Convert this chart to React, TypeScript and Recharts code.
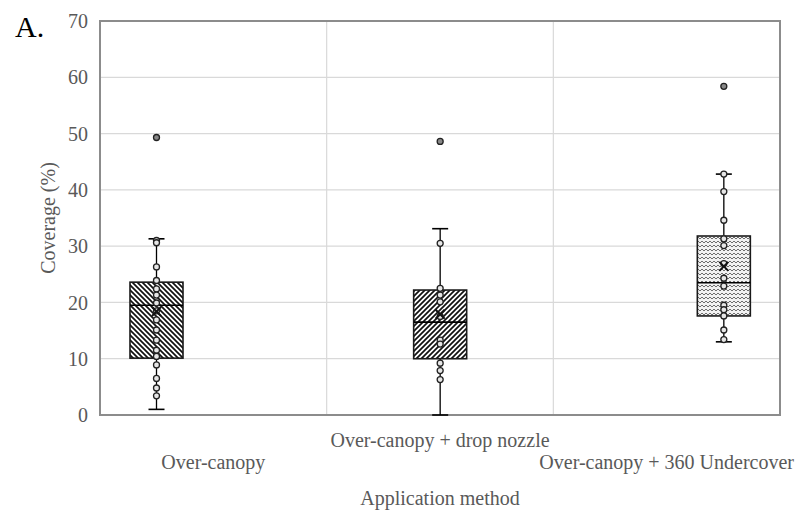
import React from "react";
import {
  ComposedChart,
  Bar,
  XAxis,
  YAxis,
  CartesianGrid,
  ReferenceArea,
  Label,
} from "recharts";

// ---------- data ----------
const categories = [
  "Over-canopy",
  "Over-canopy + drop nozzle",
  "Over-canopy + 360 Undercover",
];
const q1 = [10.1, 10.0, 17.6];
const median = [19.5, 16.5, 23.5];
const q3 = [23.6, 22.2, 31.8];
const whiskerLow = [1.0, 0, 13.0];
const whiskerHigh = [31.3, 33.1, 42.8];
const means = [18.4, 17.9, 26.4];
const outliers = [[49.3], [48.6], [58.4]];
const pointsOverCanopy = [31.0, 30.6, 26.3, 23.9, 22.4, 21.3, 19.9, 18.5, 16.9, 15.1, 13.3, 11.5, 10.4, 8.9, 6.5, 4.8, 3.4];
const pointsDropNozzle = [30.5, 22.5, 21.3, 20.1, 17.5, 13.3, 12.6, 9.2, 7.9, 6.3];
const pointsUndercover = [42.8, 39.7, 34.6, 31.3, 30.1, 26.9, 24.3, 22.9, 19.5, 18.7, 17.6, 15.1, 13.4];
const points = [pointsOverCanopy, pointsDropNozzle, pointsUndercover];
const yTicks = [0, 10, 20, 30, 40, 50, 60, 70];

const seriesKeys = ["b0", "b1", "b2"];
const patternIds = ["hatchBack", "hatchFwd", "weave"];

const data = categories.map((name, i) => {
  const row: any = { name };
  seriesKeys.forEach((k, s) => {
    row[k] = s === i ? [q1[i], q3[i]] : null;
  });
  return row;
});

const FONT = '"Liberation Serif", "Times New Roman", serif';
const GRAY_TEXT = "#595959";

const makeShape = (s: number) => (props: any) => {
  const { x, y, width, height, payload } = props;
  if (!payload || payload[seriesKeys[s]] == null) return <g />;
  if (!isFinite(x) || !isFinite(y) || !isFinite(height) || height <= 0) return <g />;
  const k = height / (q3[s] - q1[s]);
  const yOf = (v: number) => y + (q3[s] - v) * k;
  const cx = x + width / 2;
  const cap = 8;
  const yTop = yOf(whiskerHigh[s]);
  const yBot = yOf(whiskerLow[s]);
  const ym = yOf(means[s]);
  return (
    <g>
      {/* whiskers */}
      <line x1={cx} x2={cx} y1={yTop} y2={y} stroke="#000" strokeWidth={1.3} />
      <line x1={cx} x2={cx} y1={y + height} y2={yBot} stroke="#000" strokeWidth={1.3} />
      <line x1={cx - cap} x2={cx + cap} y1={yTop} y2={yTop} stroke="#000" strokeWidth={1.6} />
      <line x1={cx - cap} x2={cx + cap} y1={yBot} y2={yBot} stroke="#000" strokeWidth={1.6} />
      {/* box */}
      <rect x={x} y={y} width={width} height={height} fill="#fff" />
      <rect
        x={x}
        y={y}
        width={width}
        height={height}
        fill={`url(#${patternIds[s]})`}
        stroke="#1a1a1a"
        strokeWidth={1.6}
      />
      <line x1={x} x2={x + width} y1={yOf(median[s])} y2={yOf(median[s])} stroke="#000" strokeWidth={1.6} />
      {/* inner points */}
      {points[s].map((v, j) => (
        <circle key={"p" + j} cx={cx} cy={yOf(v)} r={3} fill="#e6e6e6" stroke="#222" strokeWidth={1.3} />
      ))}
      {/* outliers */}
      {outliers[s].map((v, j) => (
        <circle key={"o" + j} cx={cx} cy={yOf(v)} r={3} fill="#888" stroke="#222" strokeWidth={1.3} />
      ))}
      {/* mean */}
      <line x1={cx - 4.5} x2={cx + 4.5} y1={ym - 4.5} y2={ym + 4.5} stroke="#111" strokeWidth={2} />
      <line x1={cx - 4.5} x2={cx + 4.5} y1={ym + 4.5} y2={ym - 4.5} stroke="#111" strokeWidth={2} />
    </g>
  );
};

const XTick = (props: any) => {
  const { x, y, payload, index } = props;
  const idx = typeof index === "number" ? index : categories.indexOf(payload.value);
  const dy = idx % 2 === 1 ? 32 : 54;
  return (
    <text
      x={x}
      y={y + dy}
      textAnchor="middle"
      fill={GRAY_TEXT}
      fontFamily={FONT}
      fontSize={20}
    >
      {payload.value}
    </text>
  );
};

export default function App() {
  return (
    <div style={{ position: "absolute", left: 0, top: 0, width: 797, height: 510, background: "#fff" }}>
      <svg width={0} height={0} style={{ position: "absolute" }}>
        <defs>
          <pattern id="hatchBack" patternUnits="userSpaceOnUse" width={5} height={5}>
            <rect width={5} height={5} fill="#fff" />
            <path d="M-1,-1 L6,6 M-1,4 L1,6 M4,-1 L6,1" stroke="#111" strokeWidth={1.7} />
          </pattern>
          <pattern id="hatchFwd" patternUnits="userSpaceOnUse" width={5} height={5}>
            <rect width={5} height={5} fill="#fff" />
            <path d="M-1,6 L6,-1 M-1,1 L1,-1 M4,6 L6,4" stroke="#111" strokeWidth={1.7} />
          </pattern>
          <pattern id="weave" patternUnits="userSpaceOnUse" width={8} height={8}>
            <rect width={8} height={8} fill="#f2f2f2" />
            <path d="M0,3 L2,1 L4,3 L6,1 L8,3 M0,7 L2,5 L4,7 L6,5 L8,7" stroke="#6e6e6e" strokeWidth={1} fill="none" />
          </pattern>
        </defs>
      </svg>
      <svg width={797} height={510} style={{ position: "absolute", left: 0, top: 0, pointerEvents: "none" }}>
        <text x={15} y={37} fontFamily={FONT} fontSize={30} fill="#000">
          A.
        </text>
      </svg>
      <ComposedChart
        width={797}
        height={510}
        data={data}
        margin={{ top: 21, right: 17, bottom: 15, left: 20 }}
        barSize={53}
        barGap={4}
        barCategoryGap={0}
      >
        <CartesianGrid
          stroke="#d9d9d9"
          strokeWidth={1.2}
          verticalCoordinatesGenerator={({ offset }: any) => [
            offset.left + offset.width / 3,
            offset.left + (2 * offset.width) / 3,
          ]}
        />
        <XAxis
          dataKey="name"
          type="category"
          height={80}
          tickLine={false}
          axisLine={false}
          tickSize={0}
          tickMargin={0}
          interval={0}
          tick={<XTick />}
        >
          <Label
            content={(p: any) => {
              const vb = p.viewBox || { x: 100, y: 415, width: 680 };
              return (
                <text
                  x={vb.x + vb.width / 2}
                  y={505}
                  textAnchor="middle"
                  fill={GRAY_TEXT}
                  fontFamily={FONT}
                  fontSize={20}
                >
                  Application method
                </text>
              );
            }}
          />
        </XAxis>
        <YAxis
          type="number"
          domain={[0, 70]}
          ticks={yTicks}
          width={80}
          tickLine={false}
          axisLine={false}
          tickSize={0}
          tickMargin={12}
          tick={{ fill: GRAY_TEXT, fontFamily: FONT, fontSize: 20 }}
        >
          <Label
            content={(p: any) => {
              const vb = p.viewBox || { x: 20, y: 21, height: 394 };
              const cy = vb.y + vb.height / 2;
              return (
                <text
                  x={55}
                  y={cy}
                  transform={`rotate(-90 55 ${cy})`}
                  textAnchor="middle"
                  fill={GRAY_TEXT}
                  fontFamily={FONT}
                  fontSize={20}
                >
                  Coverage (%)
                </text>
              );
            }}
          />
        </YAxis>
        {seriesKeys.map((k, s) => (
          <Bar key={k} dataKey={k} isAnimationActive={false} shape={makeShape(s)} />
        ))}
        <ReferenceArea
          x1={categories[0]}
          x2={categories[2]}
          y1={0}
          y2={70}
          fill="none"
          stroke="#8c8c8c"
          strokeWidth={2}
          ifOverflow="visible"
        />
      </ComposedChart>
    </div>
  );
}
